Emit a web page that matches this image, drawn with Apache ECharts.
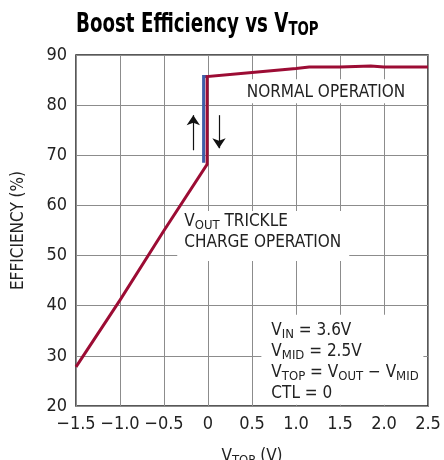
<!DOCTYPE html>
<html>
<head>
<meta charset="utf-8">
<script src="https://cdn.jsdelivr.net/npm/echarts@6/dist/echarts.min.js"></script>
<style>
html, body { margin: 0; padding: 0; background: #fff; }
#chart { width: 444px; height: 460px; }
</style>
</head>
<body>
<div id="chart"></div>
<script>
const FONT = "'Liberation Sans Narrow', 'DejaVu Sans Condensed', 'Roboto', sans-serif";

// red curve: trickle charge ramp, jump, then normal operation
const redX = [-1.5, -1.0, -0.5, -0.01, -0.01, 0.5, 1.0, 1.15, 1.5, 1.85, 2.0, 2.5];
const redY = [27.8, 41.1, 55.0, 68.2, 85.7, 86.5, 87.3, 87.6, 87.6, 87.8, 87.6, 87.6];
// blue curve: the other direction of the jump
const blueX = [-0.05, -0.05, -0.01];
const blueY = [68.5, 85.7, 85.7];

const xTicks = [-1.5, -1.0, -0.5, 0, 0.5, 1.0, 1.5, 2.0, 2.5];
const yTicks = [20, 30, 40, 50, 60, 70, 80, 90];

// arrows [x, yFrom, yTo]
const upArrow = [-0.167, 71.0, 78.0];
const downArrow = [0.125, 78.0, 71.4];

const RED = '#9c0c34';
const BLUE = '#3f5ea8';

const zip = (xs, ys) => xs.map((x, i) => [x, ys[i]]);

const subStyle = (size) => ({ fontFamily: FONT, fontSize: size, color: '#222', lineHeight: size, padding: [9, 0, 0, 0] });
const baseStyle = (size) => ({ fontFamily: FONT, fontSize: size, color: '#222', lineHeight: size + 4 });

const myChart = echarts.init(document.getElementById('chart'));

const option = {
  animation: false,
  backgroundColor: '#fff',
  grid: {
    left: 76,
    right: 16,
    top: 55,
    bottom: 54,
    outerBoundsMode: 'none',
    containLabel: false,
    show: true,
    borderColor: '#222',
    borderWidth: 1.5
  },
  xAxis: {
    type: 'value',
    min: xTicks[0],
    max: xTicks[xTicks.length - 1],
    interval: 0.5,
    name: '{n|V}{s|TOP}{n| (V)}',
    nameLocation: 'middle',
    nameGap: 40,
    nameTextStyle: {
      rich: { n: baseStyle(17), s: subStyle(13) }
    },
    axisLine: { show: false },
    axisTick: { show: false },
    axisLabel: {
      margin: 9,
      fontFamily: FONT,
      fontSize: 18,
      color: '#222',
      formatter: (v) => {
        if (Math.abs(v) < 1e-9) return '0';
        const s = Math.abs(v).toFixed(1);
        return v < 0 ? '\u2212' + s : s;
      }
    },
    splitLine: { show: true, lineStyle: { color: '#8c8c8c', width: 1 } }
  },
  yAxis: {
    type: 'value',
    min: yTicks[0],
    max: yTicks[yTicks.length - 1],
    interval: 10,
    name: 'EFFICIENCY (%)',
    nameLocation: 'middle',
    nameGap: 49,
    nameTextStyle: { fontFamily: FONT, fontSize: 17, color: '#222' },
    axisLine: { show: false },
    axisTick: { show: false },
    axisLabel: { margin: 9, fontFamily: FONT, fontSize: 18, color: '#222' },
    splitLine: { show: true, lineStyle: { color: '#8c8c8c', width: 1 } }
  },
  series: [
    {
      name: 'blue',
      type: 'line',
      data: zip(blueX, blueY),
      showSymbol: false,
      symbol: 'none',
      z: 3,
      lineStyle: { color: BLUE, width: 3, join: 'miter' }
    },
    {
      name: 'red',
      type: 'line',
      data: zip(redX, redY),
      showSymbol: false,
      symbol: 'none',
      z: 4,
      lineStyle: { color: RED, width: 3, join: 'miter' },
      markLine: {
        silent: true,
        symbol: ['none', 'arrow'],
        symbolSize: 10,
        label: { show: false },
        lineStyle: { color: '#111', width: 1.2, type: 'solid' },
        data: [
          [{ coord: [upArrow[0], upArrow[1]] }, { coord: [upArrow[0], upArrow[2]] }],
          [{ coord: [downArrow[0], downArrow[1]] }, { coord: [downArrow[0], downArrow[2]] }]
        ]
      }
    }
  ]
};

myChart.setOption(option);

// text annotations anchored in data coordinates
const px = (x, y) => myChart.convertToPixel({ gridIndex: 0 }, [x, y]);

function textBox(anchor, w, h, text, rich, pad) {
  const p = px(anchor[0], anchor[1]);
  return {
    type: 'group',
    x: p[0],
    y: p[1],
    z: 10,
    children: [
      { type: 'rect', shape: { x: -pad[0], y: -pad[1], width: w, height: h }, style: { fill: '#fff' } },
      { type: 'text', style: { text: text, rich: rich, x: 0, y: 0, fill: '#222' } }
    ]
  };
}

const annRich = { n: baseStyle(17), s: subStyle(13) };

myChart.setOption({
  graphic: [
    {
      // title, squeezed to look like the condensed original
      type: 'text',
      x: 76,
      y: 10,
      scaleX: 0.78,
      style: {
        text: '{b|Boost Efficiency vs V}{s|TOP}',
        rich: {
          b: { fontFamily: FONT, fontWeight: 'bold', fontSize: 26, color: '#222', lineHeight: 30 },
          s: { fontFamily: FONT, fontWeight: 'bold', fontSize: 19, color: '#222', lineHeight: 19, padding: [11, 0, 0, 0] }
        }
      }
    },
    textBox([0.44, 84.55], 176, 24, '{n|NORMAL OPERATION}', annRich, [6, 3]),
    textBox([-0.27, 58.9], 172, 50, '{n|V}{s|OUT}{n| TRICKLE}\n{n|CHARGE OPERATION}', annRich, [7, 0]),
    textBox([0.72, 37.2], 162, 90, '{n|V}{s|IN}{n| = 3.6V}\n{n|V}{s|MID}{n| = 2.5V}\n{n|V}{s|TOP}{n| = V}{s|OUT}{n| \u2212 V}{s|MID}\n{n|CTL = 0}', annRich, [10, 5])
  ]
});
</script>
</body>
</html>
